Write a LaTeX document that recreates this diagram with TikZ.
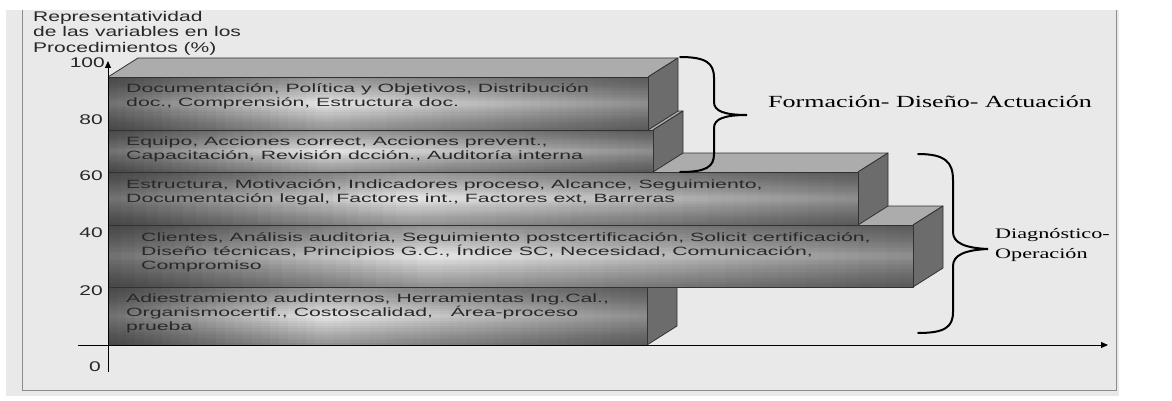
\documentclass[tikz,border=0pt]{standalone}
\usepackage{fontspec}
\setmainfont{Liberation Serif}[FakeStretch=1.53]
\setsansfont{Liberation Sans}[FakeStretch=1.5]
\newfontfamily\boxfont{Liberation Sans}[FakeStretch=1.77]
\usepackage{tikz}
\usetikzlibrary{positioning}
\usetikzlibrary{calc,arrows.meta}

\definecolor{panel}{RGB}{233,233,233}
\definecolor{framegray}{RGB}{140,140,140}
\definecolor{edge}{RGB}{50,50,50}
\definecolor{topface}{RGB}{172,172,172}
\definecolor{sideface}{RGB}{108,108,108}
\definecolor{frontdark}{RGB}{115,115,115}
\definecolor{frontlight}{RGB}{238,238,238}
\definecolor{textgray}{RGB}{40,40,40}

\tikzset{
	boxtext/.style={font=\boxfont\fontsize{12}{14}\selectfont, text=textgray, anchor=north west, align=left, inner sep=0pt},
	ticklabel/.style={font=\sffamily\fontsize{14}{15}\selectfont, text=textgray, anchor=east, inner sep=0pt},
	axislabel/.style={font=\sffamily\fontsize{14}{15.5}\selectfont, text=textgray, anchor=north west, align=left, inner sep=0pt},
	bracetext/.style={font=\rmfamily\fontsize{17}{20}\selectfont, anchor=west, align=left, inner sep=0pt},
	bracestroke/.style={line width=2pt, black, line cap=round},
	axisline/.style={line width=1pt, black, -{Triangle[length=7pt,width=6pt]}},
	faceedge/.style={draw=edge, line width=0.8pt, line join=round}
}

% depth of the blocks
\def\dx{30}
\def\dy{-19}

% block: #1 right x, #2 top y, #3 bottom y
\newcommand{\bloque}[3]{%
	% top and side faces
	\fill[topface] (108,#2) -- ++(\dx,\dy) -- ({#1+\dx},{#2+\dy}) -- (#1,#2) -- cycle;
	\draw[faceedge] (108,#2) -- ++(\dx,\dy) -- ({#1+\dx},{#2+\dy}) -- (#1,#2);
	\fill[sideface] (#1,#2) -- ({#1+\dx},{#2+\dy}) -- ({#1+\dx},{#3+\dy}) -- (#1,#3) -- cycle;
	\draw[faceedge] (#1,#2) -- ({#1+\dx},{#2+\dy}) -- ({#1+\dx},{#3+\dy}) -- (#1,#3);
	% front face, graded in strips
	\pgfmathsetmacro{\fw}{(#1-108)/60}
	\foreach \i in {0,...,59}{
		\pgfmathsetmacro{\gt}{(\i+0.5)/60}
		\pgfmathtruncatemacro{\gmix}{\gt<0.4 ? 100*\gt/0.4 : 25+75*(1-\gt)/0.6}
		\fill[frontlight!\gmix!frontdark] ({108+\i*\fw},#2) rectangle ({108+(\i+1)*\fw+0.6},#3);
	}
	% darker at the top and bottom edges
	\pgfmathsetmacro{\fh}{(#3-#2)/2/12}
	\foreach \j in {1,...,12}{
		\fill[black, fill opacity=0.035] (108,#2) rectangle (#1,{#2+\j*\fh});
		\fill[black, fill opacity=0.035] (108,#3) rectangle (#1,{#3-\j*\fh});
	}
	\draw[faceedge] (108,#2) rectangle (#1,#3);
}

\begin{document}
\begin{tikzpicture}[x=1pt, y=-1pt]
	
	% ------------------------------------------------
	% Size of the graphic and background panel
	\useasboundingbox (0,0) rectangle (1172,401);
	\fill[white] (0,0) rectangle (1172,401);
	\fill[panel] (6,10) rectangle (1119,396);
	\draw[framegray, line width=1pt] (22,10) -- (22,390) -- (1116,390) -- (1116,10);
	
	% ------------------------------------------------
	% Blocks, from bottom to top
	\bloque{647}{287}{345}
	\bloque{913}{225}{287}
	\bloque{858}{172}{225}
	\bloque{653}{130}{172}
	\bloque{648}{77}{130}
	
	% ----------------
	% Axes
	\coordinate (YBeg) at (108,372);
	\coordinate (YEnd) at (108,61);
	\coordinate (XBeg) at (78,345);
	\coordinate (XEnd) at (1108,345);
	
	\draw[axisline] (YBeg) -- (YEnd);
	\draw[axisline] (XBeg) -- (XEnd);
	
	\node[axislabel] (YLabel) at (33,11) {Representatividad\\de las variables en los\\Procedimientos (\%)};
	
	\node[ticklabel] (L100) at (105,63)  {100};
	\node[ticklabel] (L80)  at (103,120) {80};
	\node[ticklabel] (L60)  at (103,176) {60};
	\node[ticklabel] (L40)  at (103,233) {40};
	\node[ticklabel] (L20)  at (103,291) {20};
	\node[ticklabel] (L0)   at (101,367) {0};
	
	% ----------------
	% Block texts
	\node[boxtext] (TDoc) at (126,83.5)  {Documentación, Política y Objetivos, Distribución\\doc., Comprensión, Estructura doc.};
	\node[boxtext] (TEqu) at (126,136.5) {Equipo, Acciones correct, Acciones prevent.,\\Capacitación, Revisión dcción., Auditoría interna};
	\node[boxtext] (TEst) at (126,179.5) {Estructura, Motivación, Indicadores proceso, Alcance, Seguimiento,\\Documentación legal, Factores int., Factores ext, Barreras};
	\node[boxtext] (TCli) at (141,232.5) {Clientes, Análisis auditoria, Seguimiento postcertificación, Solicit certificación,\\Diseño técnicas, Principios G.C., Índice SC, Necesidad, Comunicación,\\Compromiso};
	\node[boxtext] (TAdi) at (126,293.5) {Adiestramiento audinternos, Herramientas Ing.Cal.,\\Organismocertif., Costoscalidad,\ \ \ Área-proceso\\prueba};
	
	% ----------------
	% Braces
	\coordinate (FTop) at (680,57);
	\coordinate (FTip) at (747,115);
	\coordinate (FBot) at (680,172);
	
	\draw[bracestroke] (FTop) .. controls (706,57) and (714,63) .. (714,78) -- (714,102)
		.. controls (714,111) and (724,115) .. (FTip)
		.. controls (724,115) and (714,119) .. (714,128) -- (714,154)
		.. controls (714,167) and (706,172) .. (FBot);
	
	\coordinate (DTop) at (918,154);
	\coordinate (DTip) at (988,249);
	\coordinate (DBot) at (918,333);
	
	\draw[bracestroke] (DTop) .. controls (945,154) and (953,162) .. (953,180) -- (953,232)
		.. controls (953,243) and (965,248) .. (DTip)
		.. controls (965,250) and (953,255) .. (953,266) -- (953,312)
		.. controls (953,327) and (945,333) .. (DBot);
	
	\node[bracetext] (FDA) at (768,102) {Formación- Diseño- Actuación};
	\node[bracetext, font=\rmfamily\fontsize{14.5}{20}\selectfont] (DiagOp) at (995,245) {Diagnóstico-\\Operación};
	
\end{tikzpicture}
\end{document}
